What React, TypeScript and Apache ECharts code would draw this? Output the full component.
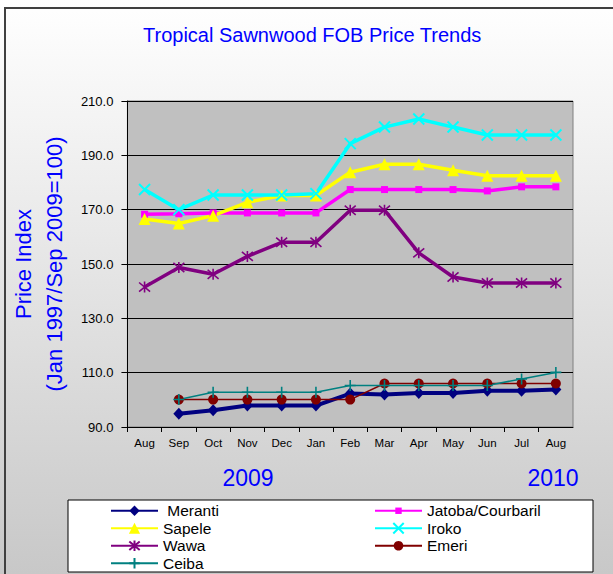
import React, { useEffect, useRef } from "react";
import * as echarts from "echarts";

const months = ["Aug", "Sep", "Oct", "Nov", "Dec", "Jan", "Feb", "Mar", "Apr", "May", "Jun", "Jul", "Aug"];
const yearLabels = ["2009", "2010"];
const yTicks = { min: 90, max: 210, step: 20 };

const meranti = [null, 94.9, 96.2, 97.9, 97.9, 97.9, 102.3, 102.0, 102.5, 102.5, 103.3, 103.3, 103.8];
const jatoba = [168.3, 168.5, 168.8, 168.8, 168.8, 168.8, 177.4, 177.4, 177.4, 177.4, 176.9, 178.4, 178.4];
const sapele = [166.6, 164.9, 167.8, 172.7, 175.2, 175.2, 183.8, 186.7, 186.7, 184.5, 182.5, 182.5, 182.5];
const iroko = [177.4, 170.0, 175.4, 175.4, 175.4, 175.9, 194.3, 200.4, 203.4, 200.4, 197.5, 197.5, 197.5];
const wawa = [141.5, 148.7, 146.2, 152.8, 158.0, 158.0, 169.8, 169.8, 154.1, 145.2, 143.0, 143.0, 143.0];
const emeri = [null, 100.1, 100.1, 100.1, 100.1, 100.1, 100.1, 106.0, 106.0, 106.0, 106.0, 106.0, 106.0];
const ceiba = [null, 100.1, 102.8, 102.8, 102.8, 102.8, 105.3, 105.3, 105.3, 105.3, 105.3, 107.7, 110.1];

const FONT = "'Liberation Sans', Arial, sans-serif";

const X_SYM = "path://M0,0L10,10M10,0L0,10";
const STAR_SYM = "path://M0,0L10,10M10,0L0,10M5,-1L5,11";
const PLUS_SYM = "path://M5,0L5,10M0,5L10,5";

type Spec = {
  name: string;
  data: (number | null)[];
  color: string;
  width: number;
  symbol: string;
  size: number | number[];
  stroke?: number;
  legendIcon: number;
};

const specs: Spec[] = [
  { name: "Meranti", data: meranti, color: "#000080", width: 4, symbol: "diamond", size: [11, 12], legendIcon: 13 },
  { name: "Jatoba/Courbaril", data: jatoba, color: "#ff00ff", width: 3.5, symbol: "rect", size: 7, legendIcon: 8 },
  { name: "Sapele", data: sapele, color: "#ffff00", width: 3.5, symbol: "triangle", size: 12, legendIcon: 14 },
  { name: "Iroko", data: iroko, color: "#00ffff", width: 3.5, symbol: X_SYM, size: 11, stroke: 2, legendIcon: 13 },
  { name: "Wawa", data: wawa, color: "#800080", width: 3.5, symbol: STAR_SYM, size: 11, stroke: 1.6, legendIcon: 13 },
  { name: "Emeri", data: emeri, color: "#800000", width: 1.5, symbol: "circle", size: 10, legendIcon: 12 },
  { name: "Ceiba", data: ceiba, color: "#008080", width: 1.5, symbol: PLUS_SYM, size: 11, stroke: 1.6, legendIcon: 13 },
];

const legendLayout: { name: string; left: number; row: number }[] = [
  { name: "Meranti", left: 110, row: 0 },
  { name: "Sapele", left: 110, row: 1 },
  { name: "Wawa", left: 110, row: 2 },
  { name: "Ceiba", left: 110, row: 3 },
  { name: "Jatoba/Courbaril", left: 374, row: 0 },
  { name: "Iroko", left: 374, row: 1 },
  { name: "Emeri", left: 374, row: 2 },
];

const LEGEND_FONT = 15.5;
const ROW0 = 510.5;
const ROW_STEP = 17.5;

export default function App() {
  const ref = useRef<HTMLDivElement>(null);

  useEffect(() => {
    if (!ref.current) return;
    const chart = echarts.init(ref.current, undefined, { renderer: "svg" });

    const series = specs.map((s) => ({
      name: s.name,
      type: "line",
      data: s.data,
      symbol: s.symbol,
      symbolSize: s.size,
      showAllSymbol: true,
      connectNulls: false,
      lineStyle: { color: s.color, width: s.width },
      itemStyle: s.stroke
        ? { color: s.color, borderColor: s.color, borderWidth: s.stroke }
        : { color: s.color, borderWidth: 0 },
      emphasis: { disabled: true },
    }));

    const legends = legendLayout.map((l) => {
      const spec = specs.find((s) => s.name === l.name)!;
      const h = spec.legendIcon;
      const textH = LEGEND_FONT;
      const center = ROW0 + l.row * ROW_STEP;
      const top = center - Math.max(h, textH) / 2;
      return {
        data: [l.name],
        orient: "horizontal",
        left: l.left,
        top,
        padding: 0,
        itemWidth: 47,
        itemHeight: h,
        itemGap: 0,
        selectedMode: false,
        formatter: l.name === "Meranti" ? " {name}" : "{name}",
        textStyle: { fontFamily: FONT, fontSize: LEGEND_FONT, lineHeight: LEGEND_FONT, color: "#000" },
      };
    });

    const option: any = {
      animation: false,
      textStyle: { fontFamily: FONT },
      title: {
        text: "Tropical Sawnwood FOB Price Trends",
        left: 143,
        top: 25,
        padding: 0,
        textStyle: { fontFamily: FONT, fontSize: 20, fontWeight: "normal", color: "#0000ff" },
      },
      legend: legends,
      grid: {
        left: 120,
        right: 40,
        top: 101,
        bottom: 147,
        show: true,
        backgroundColor: "#c0c0c0",
        borderColor: "#808080",
        borderWidth: 1,
      },
      xAxis: {
        type: "category",
        data: months,
        boundaryGap: true,
        axisLine: { show: true, lineStyle: { color: "#000", width: 1 } },
        axisTick: { show: true, length: 5, inside: false, lineStyle: { color: "#000" } },
        axisLabel: { interval: 0, color: "#000", fontSize: 11.5, margin: 10, fontFamily: FONT },
        splitLine: { show: false },
      },
      yAxis: {
        type: "value",
        min: yTicks.min,
        max: yTicks.max,
        interval: yTicks.step,
        name: "Price Index\n(Jan 1997/Sep 2009=100)",
        nameLocation: "middle",
        nameRotate: 90,
        nameGap: 49,
        nameTextStyle: { fontFamily: FONT, fontSize: 22, color: "#0000ff", lineHeight: 31, align: "center" },
        axisLine: { show: true, lineStyle: { color: "#000", width: 1 } },
        axisTick: { show: true, length: 6, inside: false, lineStyle: { color: "#000" } },
        axisLabel: {
          color: "#000",
          fontSize: 13,
          margin: 14,
          fontFamily: FONT,
          formatter: (v: number) => v.toFixed(1),
        },
        splitLine: { show: true, lineStyle: { color: "#000", width: 1 } },
      },
      graphic: [
        {
          type: "rect",
          z: -100,
          silent: true,
          shape: { x: 0, y: 0, width: 613, height: 574 },
          style: {
            fill: new echarts.graphic.LinearGradient(0, 0, 0, 1, [
              { offset: 0, color: "#ffffff" },
              { offset: 1, color: "#c8c8c8" },
            ]),
          },
        },
        {
          type: "rect",
          z: -99,
          silent: true,
          shape: { x: 5, y: 8, width: 700, height: 700 },
          style: { fill: "none", stroke: "#404040", lineWidth: 2 },
        },
        {
          type: "rect",
          z: 1,
          silent: true,
          shape: { x: 68, y: 500, width: 525, height: 72 },
          style: { fill: "#ffffff", stroke: "#000000", lineWidth: 1 },
        },
        {
          type: "text",
          z: 5,
          silent: true,
          x: 248,
          y: 478,
          style: {
            text: yearLabels[0],
            fill: "#0000ff",
            fontFamily: FONT,
            fontSize: 23,
            align: "center",
            verticalAlign: "middle",
          },
        },
        {
          type: "text",
          z: 5,
          silent: true,
          x: 553,
          y: 478,
          style: {
            text: yearLabels[1],
            fill: "#0000ff",
            fontFamily: FONT,
            fontSize: 23,
            align: "center",
            verticalAlign: "middle",
          },
        },
      ],
      series,
    };

    chart.setOption(option);
    return () => {
      chart.dispose();
    };
  }, []);

  return (
    <div
      ref={ref}
      style={{ position: "absolute", left: 0, top: 0, width: 613, height: 574 }}
    />
  );
}
